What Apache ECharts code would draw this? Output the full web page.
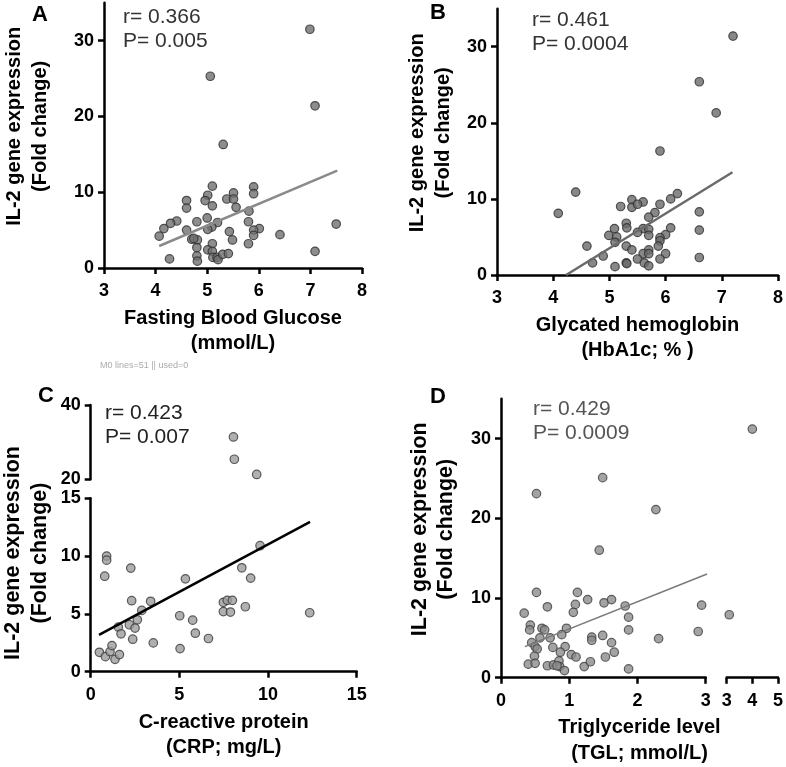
<!DOCTYPE html>
<html>
<head>
<meta charset="utf-8">
<script src="https://cdn.jsdelivr.net/npm/echarts@6/dist/echarts.min.js"></script>
<style>html,body{margin:0;padding:0;background:#fff;}#c{width:786px;height:767px;}#diag{position:absolute;left:100px;top:360px;width:680px;font:9px Arial;color:#aaa;line-height:10px;}</style>
</head>
<body>
<div id="c"></div>
<div id="diag"></div>
<script>
const msgs = [];
window.addEventListener('error', e => msgs.push('E:' + e.message));
const _ce = console.error, _cw = console.warn;
console.error = function () { msgs.push('CE:' + Array.prototype.join.call(arguments, ' ').slice(0, 160)); _ce.apply(console, arguments); };
console.warn = function () { msgs.push('CW:' + Array.prototype.join.call(arguments, ' ').slice(0, 160)); _cw.apply(console, arguments); };

// ---- Panel A: Fasting blood glucose ----
const A_x = [6.99,5.06,7.09,5.31,5.10,5.90,5.90,5.01,5.51,4.96,4.60,4.60,5.10,5.38,5.51,5.56,5.81,5.00,4.80,5.20,5.09,5.01,4.60,4.41,4.29,4.16,4.07,5.80,6.01,5.90,5.90,6.41,7.50,5.43,5.49,5.80,5.10,4.70,4.81,4.80,5.01,5.10,4.80,4.81,5.11,5.19,5.21,5.30,5.41,4.27,7.09,4.74];
const A_y = [31.5,25.3,21.4,16.3,10.8,10.7,9.8,9.6,9.9,8.9,8.9,7.9,8.2,9.1,9.1,8.0,7.5,6.6,6.1,6.0,5.4,5.1,5.0,6.2,5.9,5.2,4.2,6.1,5.2,5.0,4.3,4.4,5.8,4.8,3.7,3.2,3.2,3.8,3.7,2.7,2.4,2.2,1.6,0.9,1.4,1.4,1.1,1.8,1.9,1.2,2.2,3.9];
const A_fit = [[4.07,2.9],[7.52,12.85]];
// ---- Panel B: HbA1c ----
const B_x = [7.2,6.6,6.9,5.9,4.4,4.09,6.21,6.09,5.9,5.4,5.4,5.6,5.5,5.2,6.6,5.81,5.7,5.3,5.31,5.09,5.6,5.7,6.09,6.6,4.99,5.13,5.5,5.7,6.0,5.9,5.9,5.1,4.6,5.3,5.4,5.87,5.7,5.6,5.5,5.7,6.0,5.9,6.6,4.89,4.7,5.3,5.31,5.1,5.62,5.7];
const B_y = [31.4,25.4,21.3,16.3,10.9,8.1,10.7,10.0,9.3,9.9,8.9,9.6,9.3,9.0,8.3,8.2,7.6,6.8,6.2,6.1,6.1,6.0,6.2,5.9,5.2,5.0,5.6,5.2,5.3,4.9,4.5,4.3,3.8,3.8,3.3,3.8,3.3,2.8,2.1,2.8,2.8,2.1,2.3,2.5,1.6,1.6,1.5,1.1,1.6,1.2];
const B_fit = [[4.23,0],[7.19,13.5]];
// ---- Panel C: CRP (broken y axis) ----
const C_hi_x = [8.05,8.1,9.36];
const C_hi_y = [31.4,25.4,21.3];
const C_lo_x = [9.55,0.9,0.9,0.79,2.26,8.52,9.02,5.34,7.48,7.7,7.99,7.48,7.88,8.72,12.35,2.31,3.38,2.88,2.63,2.18,2.5,1.56,1.71,2.37,3.53,5.02,5.75,5.9,6.64,5.04,0.49,0.83,1.09,1.2,1.37,1.62];
const C_lo_y = [10.9,10.0,9.65,8.26,8.96,8.99,8.1,8.03,6.0,6.17,6.17,5.2,5.16,5.62,5.1,6.14,6.09,5.3,4.49,4.06,3.77,3.86,3.28,2.81,2.49,4.84,4.46,3.33,2.87,2.0,1.68,1.3,1.74,2.26,1.07,1.48];
const C_fit = [[0.47,3.19],[12.37,12.96]];
// ---- Panel D: Triglyceride (broken x axis) ----
const D_x = [0.52,1.49,2.27,1.44,0.52,1.12,1.27,1.51,1.62,1.09,1.06,0.68,0.34,1.82,1.87,2.94,0.43,0.42,0.60,0.64,0.96,0.89,0.72,0.57,0.45,0.50,0.53,0.76,0.94,0.87,1.03,1.10,1.33,1.33,1.49,1.62,1.66,1.53,1.87,2.31,2.89,0.49,0.40,0.50,0.68,0.77,0.85,0.86,0.93,1.22,1.31,1.87,0.82];
const D_y = [23.1,25.1,21.1,16.0,10.7,10.7,9.8,9.4,9.8,9.2,8.2,8.9,8.1,9.0,7.6,9.1,6.6,6.0,6.2,6.0,6.2,5.4,5.0,5.0,4.4,3.9,3.6,3.8,3.9,3.2,2.9,2.6,5.1,4.7,5.3,4.4,3.2,2.6,6.0,4.9,5.8,2.7,1.7,1.8,1.5,1.6,2.1,1.4,0.9,1.4,2.0,1.1,1.5];
const D_hi_x = [4.0,3.1];
const D_hi_y = [31.2,7.9];
const D_fit = [[0.35,3.9],[3.02,13.0]];
// ---- labels / ticks ----
const yTitle = 'IL-2 gene expression\n(Fold change)';
const xTitles = ['Fasting Blood Glucose\n(mmol/L)','Glycated hemoglobin\n(HbA1c; % )','C-reactive protein\n(CRP; mg/L)','Triglyceride level\n(TGL; mmol/L)'];
const stats = [['r= 0.366','P= 0.005'],['r= 0.461','P= 0.0004'],['r= 0.423','P= 0.007'],['r= 0.429','P= 0.0009']];
const letters = ['A','B','C','D'];
const yTicks35 = [0,10,20,30];

const zip = (xs, ys) => xs.map((x, i) => [x, ys[i]]);
const FONT = 'Arial, "Liberation Sans", Helvetica, sans-serif';
const HIDDEN = {axisLine: {show: false}, axisTick: {show: false}, axisLabel: {show: false}, splitLine: {show: false}};

function axLine() { return {show: true, onZero: false, lineStyle: {color: '#000', width: 2.5}}; }
function axTick(custom) {
  const t = {show: true, length: 6, lineStyle: {color: '#000', width: 2.5}};
  if (custom) t.customValues = custom;
  return t;
}
function axLabel(m, custom) {
  const l = {margin: m, color: '#000', fontFamily: FONT, fontWeight: 'bold', fontSize: 18};
  if (custom) l.customValues = custom;
  return l;
}

function buildOption(mode) {
  // mode 0: names on axes; 1: titles as graphic text; 2: + fit lines as markLine
  const useNames = mode === 0;
  function xAx(g, min, max, iv, name, extra) {
    const a = {type: 'value', gridIndex: g, min, max, interval: iv,
      axisLine: axLine(), axisTick: axTick(), axisLabel: axLabel(14), splitLine: {show: false}};
    if (name && useNames) Object.assign(a, {name, nameLocation: 'middle', nameGap: 38,
      nameTextStyle: {color: '#000', fontFamily: FONT, fontSize: 20, fontWeight: 'bold', lineHeight: 25}});
    return Object.assign(a, extra || {});
  }
  function yAx(g, min, max, iv, name, gap, size, custom, extra) {
    const a = {type: 'value', gridIndex: g, min, max, interval: iv,
      axisLine: axLine(), axisTick: axTick(custom), axisLabel: axLabel(10, custom), splitLine: {show: false}};
    if (name && useNames) Object.assign(a, {name, nameLocation: 'middle', nameRotate: 90, nameGap: gap,
      nameTextStyle: {color: '#000', fontFamily: FONT, fontSize: size, fontWeight: 'bold', lineHeight: 26, padding: [0, 0, 0, 18]}});
    return Object.assign(a, extra || {});
  }
  function scatter(xi, yi, xs, ys, fill, border) {
    return {type: 'scatter', xAxisIndex: xi, yAxisIndex: yi, data: zip(xs, ys),
      symbolSize: 8.5, itemStyle: {color: fill, borderColor: border, borderWidth: 1.2}};
  }
  function fit(xi, yi, pts, color, width) {
    if (mode === 2) {
      return {type: 'scatter', xAxisIndex: xi, yAxisIndex: yi, data: [], markLine: {silent: true, symbol: 'none', label: {show: false},
        lineStyle: {color, width, type: 'solid'}, data: [[{coord: pts[0]}, {coord: pts[1]}]]}};
    }
    return {type: 'line', xAxisIndex: xi, yAxisIndex: yi, data: pts, symbol: 'none', lineStyle: {color, width}};
  }
  const T = (x, y, text, font, extra) => ({type: 'text', x, y, style: Object.assign({text, font: font + ' ' + FONT, fill: '#000'}, extra || {})});
  const graphic = [
    T(32, 4, letters[0], 'bold 22px'),
    T(430, 2, letters[1], 'bold 22px'),
    T(38, 385, letters[2], 'bold 22px'),
    T(430, 386, letters[3], 'bold 22px'),
    T(123, 5, stats[0].join('\n'), '21px', {lineHeight: 24, fill: '#333'}),
    T(532, 8, stats[1].join('\n'), '21px', {lineHeight: 24, fill: '#333'}),
    T(105, 401, stats[2].join('\n'), '21px', {lineHeight: 24, fill: '#222'}),
    T(533, 397, stats[3].join('\n'), '21px', {lineHeight: 24, fill: '#555'}),
    T(639.5, 714, xTitles[3], 'bold 20px', {lineHeight: 26, align: 'center', verticalAlign: 'top'}),
    Object.assign(T(27, 553, yTitle, 'bold 21.5px', {lineHeight: 27, align: 'center', verticalAlign: 'middle'}), {rotation: Math.PI / 2})
  ];
  if (!useNames) {
    graphic.push(
      T(228.5, 306, xTitles[0], 'bold 20px', {lineHeight: 25, align: 'center', verticalAlign: 'top'}),
      T(637.7, 313, xTitles[1], 'bold 20px', {lineHeight: 25, align: 'center', verticalAlign: 'top'}),
      T(223.7, 709, xTitles[2], 'bold 20px', {lineHeight: 25, align: 'center', verticalAlign: 'top'}),
      Object.assign(T(25, 126, yTitle, 'bold 20px', {lineHeight: 26, align: 'center', verticalAlign: 'middle'}), {rotation: Math.PI / 2}),
      Object.assign(T(427, 133, yTitle, 'bold 20px', {lineHeight: 26, align: 'center', verticalAlign: 'middle'}), {rotation: Math.PI / 2}),
      Object.assign(T(433, 529, yTitle, 'bold 21.5px', {lineHeight: 27, align: 'center', verticalAlign: 'middle'}), {rotation: Math.PI / 2})
    );
  }
  return {
    animation: false,
    grid: [
      {left: 95, top: 2.7, width: 267, height: 265.3},        // A
      {left: 497, top: 8.7, width: 281.5, height: 266.3},     // B
      {left: 90.7, top: 498.3, width: 266, height: 173.4},    // C lower
      {left: 90.7, top: 405, width: 266, height: 74.3},       // C upper
      {left: 501, top: 398.8, width: 204.7, height: 278.9},   // D left
      {left: 726.7, top: 398.8, width: 51.6, height: 278.9}   // D right
    ],
    xAxis: [
      xAx(0, 3, 8, 1, xTitles[0]),
      xAx(1, 3, 8, 1, xTitles[1]),
      xAx(2, 0, 15, 5, xTitles[2]),
      xAx(3, 0, 15, 5, '', HIDDEN),
      xAx(4, 0, 3, 1, ''),
      xAx(5, 3, 5, 1, '')
    ],
    yAxis: [
      yAx(0, 0, 35, 10, yTitle, 51, 20, yTicks35),
      yAx(1, 0, 35, 10, yTitle, 41, 20, yTicks35),
      yAx(2, 0, 15, 5, ''),
      yAx(3, 20, 40, 20, ''),
      yAx(4, 0, 35, 10, yTitle, 42, 21.5, yTicks35),
      yAx(5, 0, 35, 10, '', 0, 20, null, HIDDEN)
    ],
    series: [
      scatter(0, 0, A_x, A_y, '#707070', '#2e2e2e'),
      fit(0, 0, A_fit, '#8a8a8a', 2.5),
      scatter(1, 1, B_x, B_y, '#6a6a6a', '#2e2e2e'),
      fit(1, 1, B_fit, '#6a6a6a', 2.5),
      scatter(2, 2, C_lo_x, C_lo_y, '#9c9c9c', '#383838'),
      scatter(3, 3, C_hi_x, C_hi_y, '#9c9c9c', '#383838'),
      fit(2, 2, C_fit, '#000', 2.5),
      scatter(4, 4, D_x, D_y, '#8c8c8c', '#404040'),
      scatter(5, 5, D_hi_x, D_hi_y, '#8c8c8c', '#404040'),
      fit(4, 4, D_fit, '#7a7a7a', 1.6)
    ],
    graphic
  };
}

const chart = echarts.init(document.getElementById('c'));
function countAxisLines() {
  let n = 0;
  chart.getZr().storage.getDisplayList(true).forEach(el => {
    if (el.shape && el.shape.x1 !== undefined && el.style && el.style.lineWidth === 2.5) n++;
  });
  return n;
}
let used = -1;
for (let mode = 0; mode < 3; mode++) {
  let ok = true;
  try {
    if (mode > 0) chart.clear();
    chart.setOption(buildOption(mode), true);
  } catch (e) {
    ok = false;
    msgs.push('M' + mode + ' T:' + e.message + ' @ ' + String(e.stack || '').split('\n').slice(1, 3).join(' | ').slice(0, 200));
  }
  const n = countAxisLines();
  msgs.push('M' + mode + ' lines=' + n);
  if (ok && n > 0) { used = mode; break; }
}
msgs.push('used=' + used);
document.getElementById('diag').textContent = msgs.join(' || ');
</script>
</body>
</html>
